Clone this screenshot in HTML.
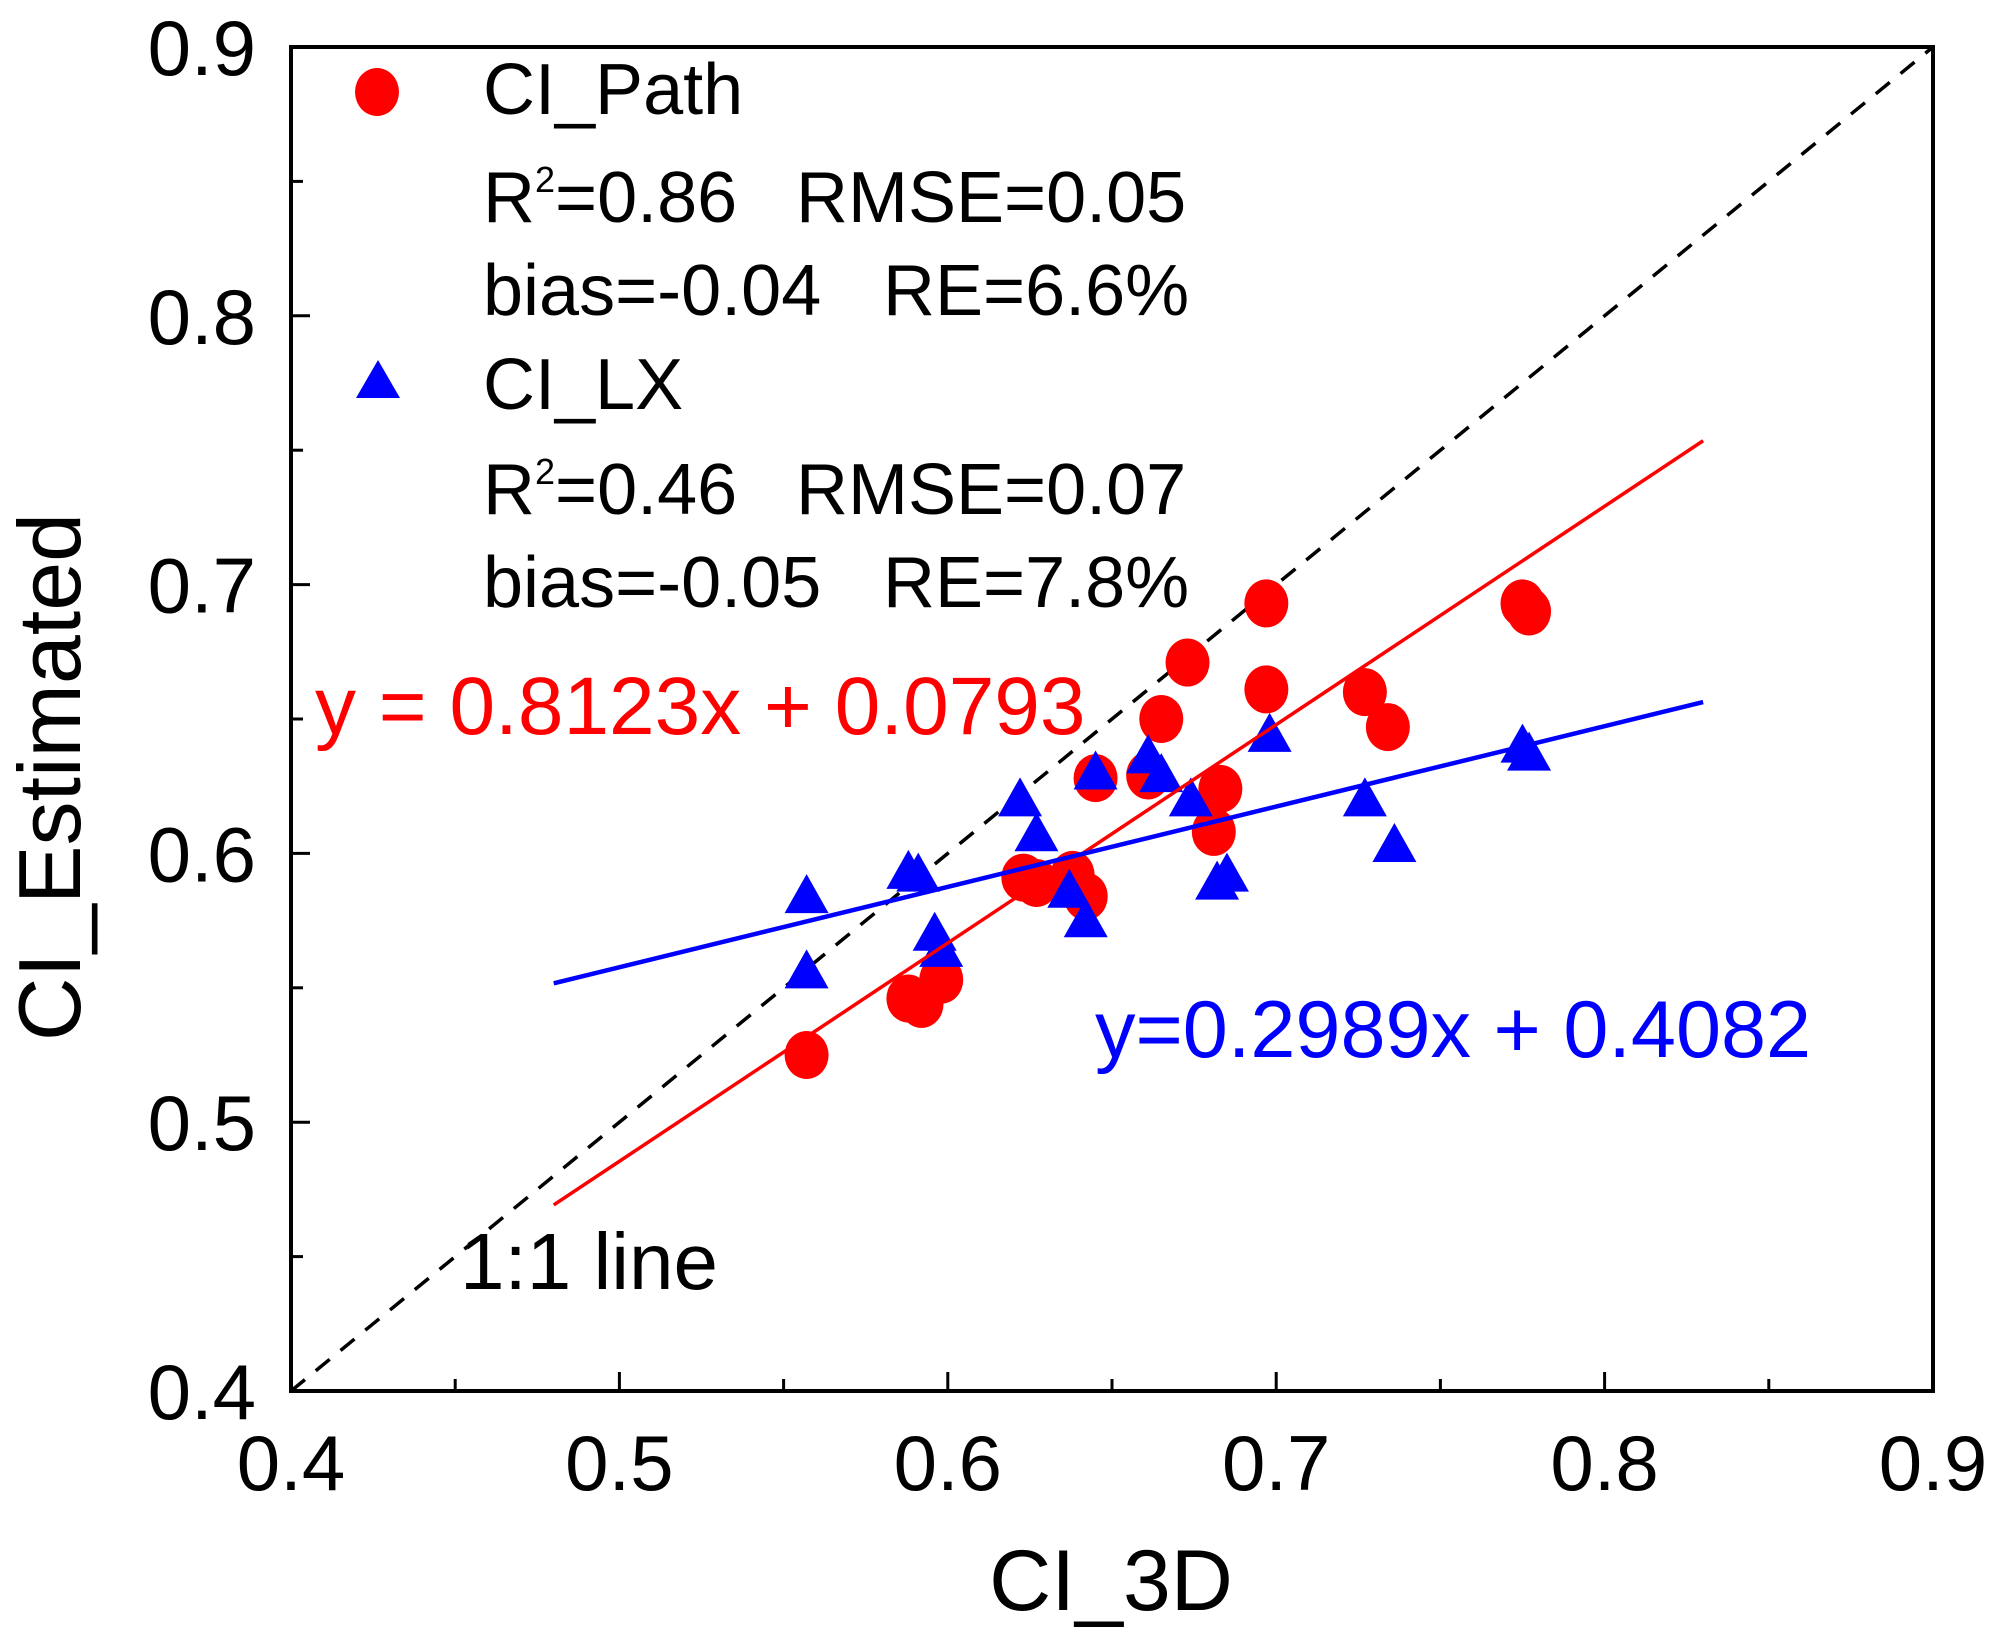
<!DOCTYPE html>
<html><head><meta charset="utf-8">
<style>
html,body{margin:0;padding:0;background:#fff;}
svg{display:block;font-family:"Liberation Sans",Arial,sans-serif;}
</style></head>
<body>
<svg id="chart" width="1991" height="1649" viewBox="0 0 1991 1649" xmlns="http://www.w3.org/2000/svg">
<rect x="0" y="0" width="1991" height="1649" fill="#fff"/>
<g id="grid"></g>
<g id="marks"></g>
<g id="legend" font-size="72" fill="#000">
  <ellipse cx="377" cy="92" rx="22" ry="24" fill="#ff0000"/>
  <text x="483" y="114">CI_Path</text>
  <text x="483" y="222">R<tspan dy="-30" font-size="36">2</tspan><tspan dy="30">=0.86</tspan></text>
  <text x="796" y="222">RMSE=0.05</text>
  <text x="483" y="315">bias=-0.04</text>
  <text x="883" y="315">RE=6.6%</text>
  <polygon points="378,360 356,398 400,398" fill="#0000ff"/>
  <text x="483" y="409">CI_LX</text>
  <text x="483" y="514">R<tspan dy="-30" font-size="36">2</tspan><tspan dy="30">=0.46</tspan></text>
  <text x="796" y="514">RMSE=0.07</text>
  <text x="483" y="607">bias=-0.05</text>
  <text x="883" y="607">RE=7.8%</text>
</g>
<text x="315" y="734" font-size="82" fill="#ff0000">y = 0.8123x + 0.0793</text>
<text x="1095" y="1057" font-size="81" fill="#0000ff">y=0.2989x + 0.4082</text>
<text x="460" y="1289" font-size="80" fill="#000">1:1 line</text>
<text x="1111" y="1610" font-size="86" text-anchor="middle">CI_3D</text>
<text x="0" y="0" font-size="88" text-anchor="middle" transform="translate(80,777) rotate(-90)">CI_Estimated</text>
</svg>
<script>
const pathX=[0.557,0.588,0.592,0.598,0.623,0.627,0.638,0.642,0.645,0.661,0.665,0.673,0.681,0.683,0.697,0.697,0.727,0.734,0.775,0.777];
const pathY=[0.525,0.546,0.544,0.553,0.591,0.589,0.592,0.584,0.628,0.629,0.650,0.671,0.608,0.624,0.693,0.661,0.660,0.647,0.693,0.690];
const lxX=[0.557,0.557,0.588,0.591,0.596,0.598,0.622,0.627,0.637,0.642,0.645,0.661,0.665,0.674,0.682,0.685,0.698,0.727,0.736,0.775,0.777];
const lxY=[0.583,0.555,0.592,0.591,0.569,0.563,0.619,0.606,0.585,0.574,0.629,0.635,0.628,0.619,0.588,0.591,0.643,0.619,0.602,0.639,0.636];
const xTicks=["0.4","0.5","0.6","0.7","0.8","0.9"];
const yTicks=["0.4","0.5","0.6","0.7","0.8","0.9"];
const redFit=[0.8123,0.0793];
const blueFit=[0.2989,0.4082];
const fitRange=[0.48,0.83];

const L=291,R=1933,T=47,B=1391;
const sx=v=>L+(v-0.4)/0.5*(R-L);
const sy=v=>B-(v-0.4)/0.5*(B-T);
const NS="http://www.w3.org/2000/svg";
function mk(tag,attrs,parent){const e=document.createElementNS(NS,tag);for(const k in attrs)e.setAttribute(k,attrs[k]);parent.appendChild(e);return e;}
const grid=document.getElementById('grid'), marks=document.getElementById('marks');

const frame=mk('rect',{x:L,y:T,width:R-L,height:B-T,fill:'none',stroke:'#000','stroke-width':4},grid);


for(let i=0;i<=10;i++){
  const v=0.4+i*0.05, major=i%2===0, len=major?19:12;
  const tx=mk('line',{x1:sx(v),x2:sx(v),y1:B,y2:B-len,stroke:'#000','stroke-width':3},grid);
  
  
  const ty=mk('line',{x1:L,x2:L+len,y1:sy(v),y2:sy(v),stroke:'#000','stroke-width':3},grid);
  
  
}
xTicks.forEach(t=>{
  const e=mk('text',{x:sx(+t),y:1490,'font-size':78,'text-anchor':'middle'},grid);e.textContent=t;
  
  
});
yTicks.forEach(t=>{
  const e=mk('text',{x:256,y:sy(+t)+28,'font-size':78,'text-anchor':'end'},grid);e.textContent=t;
  
  
});
const oneLine=mk('line',{x1:sx(0.4),y1:sy(0.4),x2:sx(0.9),y2:sy(0.9),stroke:'#000','stroke-width':3.5,'stroke-dasharray':'18,14'},marks);



pathX.forEach((x,i)=>{
  const c=mk('ellipse',{cx:sx(x),cy:sy(pathY[i]),rx:22,ry:24,fill:'#ff0000'},marks);
  
  
});
lxX.forEach((x,i)=>{
  const cx=sx(x),cy=sy(lxY[i]);
  const p=mk('polygon',{points:`${cx},${cy-25} ${cx-22},${cy+14} ${cx+22},${cy+14}`,fill:'#0000ff'},marks);
  
  
});
const rl=mk('line',{x1:sx(fitRange[0]),y1:sy(redFit[0]*fitRange[0]+redFit[1]),x2:sx(fitRange[1]),y2:sy(redFit[0]*fitRange[1]+redFit[1]),stroke:'#ff0000','stroke-width':3.5},marks);


const bl=mk('line',{x1:sx(fitRange[0]),y1:sy(blueFit[0]*fitRange[0]+blueFit[1]),x2:sx(fitRange[1]),y2:sy(blueFit[0]*fitRange[1]+blueFit[1]),stroke:'#0000ff','stroke-width':4.5},marks);


</script>
</body></html>
